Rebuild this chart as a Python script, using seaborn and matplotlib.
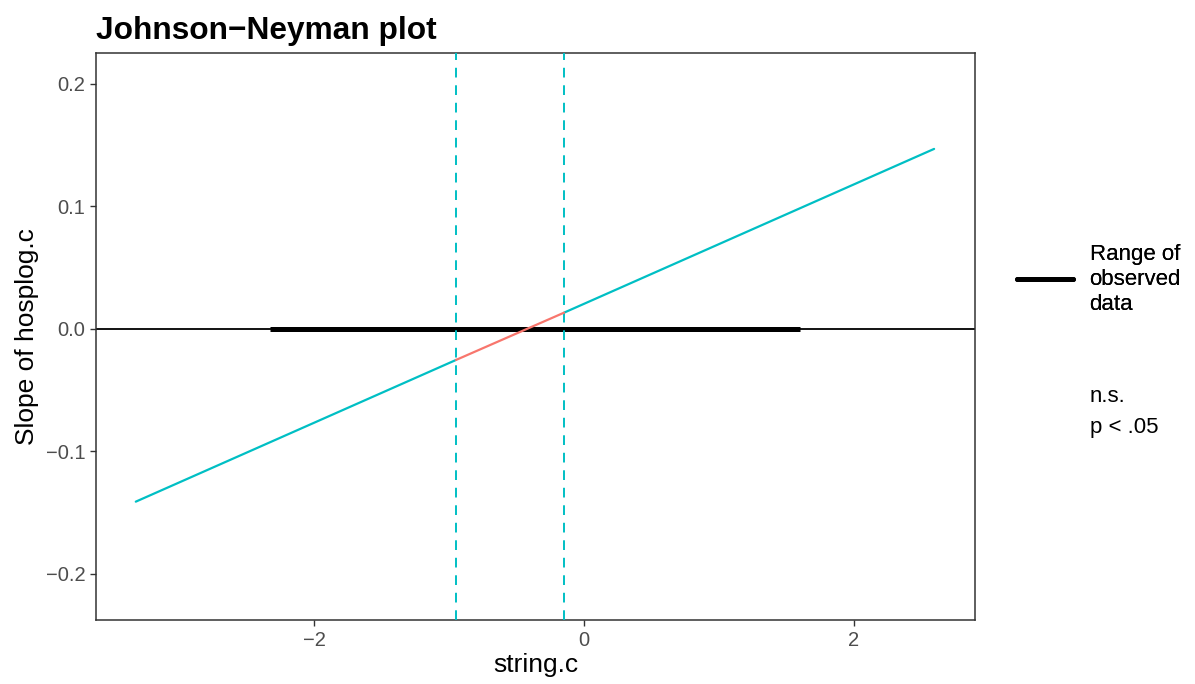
import pandas as pd
import matplotlib.pyplot as plt
import seaborn as sns
from matplotlib.lines import Line2D

# slope of hosplog.c along string.c, split at the Johnson-Neyman bounds
seg_x = [[-3.32, -0.948], [-0.948, -0.148], [-0.148, 2.593]]
seg_y = [[-0.141, -0.0253], [-0.0253, 0.0133], [0.0133, 0.147]]
seg_sig = ["p < .05", "n.s.", "p < .05"]

jn_bounds = [-0.948, -0.148]
observed_range = [-2.326, 1.60]

x_ticks = [-2, 0, 2]
y_ticks = [-0.2, -0.1, 0.0, 0.1, 0.2]

rows = []
for i, (xs, ys) in enumerate(zip(seg_x, seg_y)):
    for x, y in zip(xs, ys):
        rows.append({"x": x, "y": y, "sig": seg_sig[i], "seg": i})
df = pd.DataFrame(rows)

sns.set_theme(style="white")
plt.rcParams["font.family"] = ["Liberation Sans", "DejaVu Sans"]
plt.rcParams["text.color"] = "black"
plt.rcParams["axes.labelcolor"] = "black"

cyan = "#00BFC4"
salmon = "#F8766D"

fig = plt.figure(figsize=(11.95, 6.84), dpi=100)
ax = fig.add_axes([0.0803, 0.0936, 0.7356, 0.8289])

ax.axhline(0, color="black", lw=1.3, zorder=1)
ax.plot(observed_range, [0, 0], color="black", lw=3.6, solid_capstyle="butt", zorder=2)
for b in jn_bounds:
    ax.axvline(b, color=cyan, lw=1.4, ls=(0, (5, 4)), zorder=3)

sns.lineplot(data=df, x="x", y="y", hue="sig", units="seg", estimator=None,
             palette={"n.s.": salmon, "p < .05": cyan}, lw=1.6, legend=False,
             ax=ax, zorder=4)

ax.set_xlim(-3.615, 2.896)
ax.set_ylim(-0.2376, 0.2253)
ax.set_xticks(x_ticks)
ax.set_xticklabels(["\u22122", "0", "2"])
ax.set_yticks(y_ticks)
ax.set_yticklabels(["\u22120.2", "\u22120.1", "0.0", "0.1", "0.2"])
ax.tick_params(axis="both", which="both", direction="out", length=4.3, width=1,
               color="#333333", labelcolor="#4D4D4D", labelsize=14.5, pad=3.5,
               bottom=True, left=True)

for s in ax.spines.values():
    s.set_color("#333333")
    s.set_linewidth(1.1)

ax.set_xlabel("string.c", fontsize=19, labelpad=2)
ax.set_ylabel("Slope of hosplog.c", fontsize=19, labelpad=5)
fig.text(0.0803, 0.943, "Johnson\u2212Neyman plot", fontsize=22.8, fontweight="bold", ha="left")

leg1 = fig.legend(handles=[Line2D([0], [0], color="black", lw=3.6)],
                  labels=["Range of\nobserved\ndata"], loc="center left",
                  bbox_to_anchor=(0.851, 0.592), frameon=False, fontsize=16,
                  handlelength=2.5, handletextpad=0.77, labelspacing=0.0,
                  borderpad=0.0, borderaxespad=0.0)
leg1.get_texts()[0].set_linespacing(1.25)
fig.add_artist(leg1)
fig.legend(handles=[Line2D([0], [0], color="none"), Line2D([0], [0], color="none")],
           labels=["n.s.", "p < .05"], loc="center left",
           bbox_to_anchor=(0.851, 0.398), frameon=False, fontsize=16,
           handlelength=2.5, handletextpad=0.77, labelspacing=0.45,
           borderpad=0.0, borderaxespad=0.0)

plt.savefig("out.png", dpi=100)
